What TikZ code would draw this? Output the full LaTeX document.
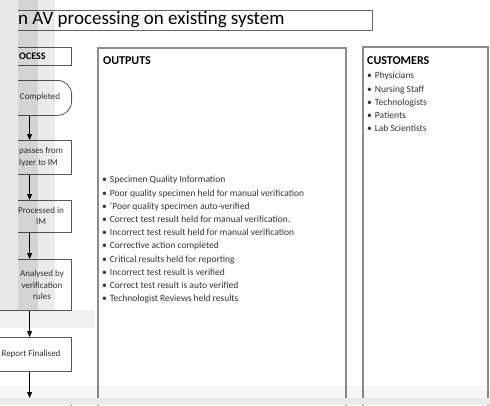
\documentclass[tikz,border=0pt]{standalone}
\usepackage{fontspec}
\setmainfont{Carlito}
\usetikzlibrary{arrows.meta}
\tikzset{
  procbox/.style={draw=black!65, line width=0.8pt, minimum width=84pt, inner sep=0pt, anchor=north east},
  proctext/.style={font=\fontsize{9}{11.5}\selectfont, align=center, text=black!80, inner sep=0pt},
  flow/.style={-{Triangle[length=6pt,width=5pt]}, line width=0.8pt},
  panel/.style={draw=black!45, line width=1.4pt},
  bullets/.style={font=\fontsize{9.5}{13.2}\selectfont, align=left, anchor=north west, inner sep=0pt, text=black!80},
  head/.style={font=\bfseries\fontsize{12}{14}\selectfont, anchor=west, inner sep=0pt}
}
\begin{document}
\begin{tikzpicture}[x=1pt, y=-1pt]
    \useasboundingbox (0,0) rectangle (490,405);
    \clip (0,0) rectangle (490,405);

    % Title
    \node[draw=black!60, line width=1pt, minimum width=380pt, minimum height=20pt, inner sep=0pt, anchor=north east] (title) at (373,10) {};
    \node[font=\fontsize{19}{22}\selectfont, anchor=west, inner sep=0pt] (titletext) at (18,19.5) {n AV processing on existing system};

    % Process column
    \node[procbox, minimum height=18pt] (prochead) at (72,47) {};
    \node[font=\bfseries\fontsize{10}{12}\selectfont, anchor=west, inner sep=0pt] at (19,56) {OCESS};

    \node[procbox, minimum height=35pt, rounded corners=14pt] (done) at (72,80) {};
    \node[procbox, minimum height=34pt] (passim) at (72,140) {};
    \node[procbox, minimum height=32pt] (procim) at (72,200) {};
    \node[procbox, minimum height=51pt] (rules) at (72,259) {};
    \node[procbox, minimum height=34pt] (report) at (72,337) {};
    \node[procbox, minimum height=34pt] (nextstep) at (72,398) {};

    \node[proctext] at (40,97) {Completed};
    \node[proctext, align=left, anchor=west] at (19,157) {passes from\\lyzer to IM};
    \node[proctext] at (41,216) {Processed in\\IM};
    \node[proctext] at (42,285) {Analysed by\\verification\\rules};
    \node[proctext] at (31,354) {Report Finalised};

    \draw[flow] (done) -- (passim);
    \draw[flow] (passim) -- (procim);
    \draw[flow] (procim) -- (rules);
    \draw[flow] (rules) -- (report);
    \draw[flow] (report) -- (nextstep);

    % Outputs
    \draw[panel] (98,48) rectangle (346,420);
    \node[head] (outhead) at (103,61) {OUTPUTS};
    \node[bullets] (outlist) at (102,176) {%
        \textbullet\hspace{3pt}Specimen Quality Information\\
        \textbullet\hspace{3pt}Poor quality specimen held for manual verification\\
        \textbullet\hspace{3pt}’Poor quality specimen auto-verified\\
        \textbullet\hspace{3pt}Correct test result held for manual verification.\\
        \textbullet\hspace{3pt}Incorrect test result held for manual verification\\
        \textbullet\hspace{3pt}Corrective action completed\\
        \textbullet\hspace{3pt}Critical results held for reporting\\
        \textbullet\hspace{3pt}Incorrect test result is verified\\
        \textbullet\hspace{3pt}Correct test result is auto verified\\
        \textbullet\hspace{3pt}Technologist Reviews held results};

    % Customers
    \draw[panel] (363,47) rectangle (488,420);
    \node[head] (custhead) at (367,61) {CUSTOMERS};
    \node[bullets] (custlist) at (367,72) {%
        \textbullet\hspace{3pt}Physicians\\
        \textbullet\hspace{3pt}Nursing Staff\\
        \textbullet\hspace{3pt}Technologists\\
        \textbullet\hspace{3pt}Patients\\
        \textbullet\hspace{3pt}Lab Scientists};

    % Window shadows over the screenshot
    \fill[black!9] (0,0) rectangle (18,310);
    \fill[black, opacity=0.17] (18,0) rectangle (38,310);
    \fill[black, opacity=0.08] (38,0) rectangle (55,310);
    \fill[black, opacity=0.06] (0,310) rectangle (95,328);
    \fill[black, opacity=0.03] (0,386) rectangle (490,398);
    \fill[black!8] (0,398) rectangle (490,405);
\end{tikzpicture}
\end{document}
